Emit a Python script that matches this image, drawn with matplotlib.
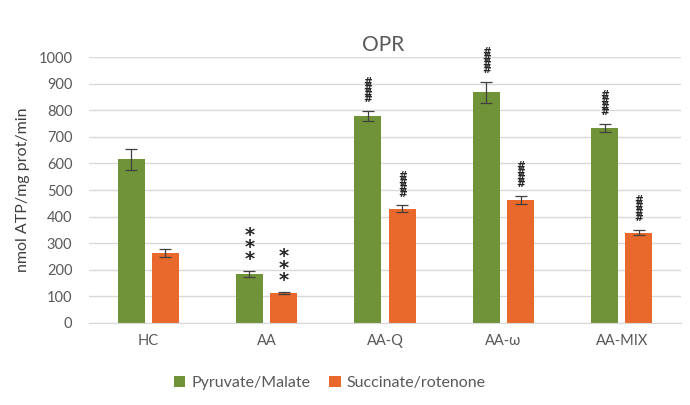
import matplotlib.pyplot as plt
import numpy as np

plt.rcParams['font.family'] = ['Lato', 'DejaVu Sans']

# data
groups = ['HC', 'AA', 'AA-Q', 'AA-ω', 'AA-MIX']
pyruvate = [615, 185, 778, 868, 732]
pyruvate_err = [40, 12, 18, 40, 15]
succinate = [265, 113, 430, 463, 340]
succinate_err = [15, 5, 12, 15, 10]
pyr_marks = ['', '*\n*\n*', '#\n#\n#\n#', '#\n#\n#\n#', '#\n#\n#\n#']
suc_marks = ['', '*\n*\n*', '#\n#\n#\n#', '#\n#\n#\n#', '#\n#\n#\n#']

green = '#70933A'
orange = '#E8692B'
grey = '#595959'

fig = plt.figure(figsize=(6.9, 4.05), dpi=100)
ax = fig.add_axes([0.129, 0.2025, 0.858, 0.6565])

x = np.arange(len(groups))
w = 0.228
off = 0.145

ax.bar(x - off, pyruvate, w, color=green, label='Pyruvate/Malate', zorder=2)
ax.bar(x + off, succinate, w, color=orange, label='Succinate/rotenone', zorder=2)
ax.errorbar(x - off, pyruvate, yerr=pyruvate_err, fmt='none', ecolor='#404040',
            elinewidth=0.9, capsize=4, capthick=0.9, zorder=3)
ax.errorbar(x + off, succinate, yerr=succinate_err, fmt='none', ecolor='#404040',
            elinewidth=0.9, capsize=4, capthick=0.9, zorder=3)

# significance marks stacked above the error bars
for xs, vals, errs, marks in [(x - off, pyruvate, pyruvate_err, pyr_marks),
                              (x + off, succinate, succinate_err, suc_marks)]:
    for xi, v, e, m in zip(xs, vals, errs, marks):
        if not m:
            continue
        if m.startswith('*'):
            ax.annotate(m, (xi, v + e), xytext=(0, 1), textcoords='offset points',
                        ha='center', va='bottom', fontsize=14, linespacing=0.55,
                        color='#262626', family='DejaVu Sans', fontweight='bold')
        else:
            ax.annotate(m, (xi, v + e), xytext=(0, 5), textcoords='offset points',
                        ha='center', va='bottom', fontsize=7.5, linespacing=0.48,
                        color='#262626', family='DejaVu Sans', fontweight='bold')

ax.set_xlim(-0.5, len(groups) - 0.5)
ax.set_ylim(0, 1000)
ax.set_yticks(np.arange(0, 1001, 100))
ax.set_xticks(x)
ax.set_xticklabels(groups)
ax.tick_params(axis='both', length=0, colors=grey, labelsize=10.5)
ax.tick_params(axis='x', pad=8)
ax.tick_params(axis='y', pad=12)
ax.grid(axis='y', color='#D9D9D9', linewidth=1, zorder=0)
ax.set_axisbelow(True)
for s in ['top', 'right', 'left']:
    ax.spines[s].set_visible(False)
ax.spines['bottom'].set_color('#D9D9D9')

ax.set_ylabel('nmol ATP/mg prot/min', fontsize=11.5, color='#404040', labelpad=6)
fig.text(0.555, 0.89, 'OPR', ha='center', va='center', fontsize=15, color=grey)

fig.legend(loc='center', bbox_to_anchor=(0.478, 0.055), ncol=2, frameon=False,
           fontsize=11.5, handlelength=0.7, handleheight=0.7, columnspacing=1.2,
           handletextpad=0.4, labelcolor=grey)

fig.savefig('out.png', dpi=100)
